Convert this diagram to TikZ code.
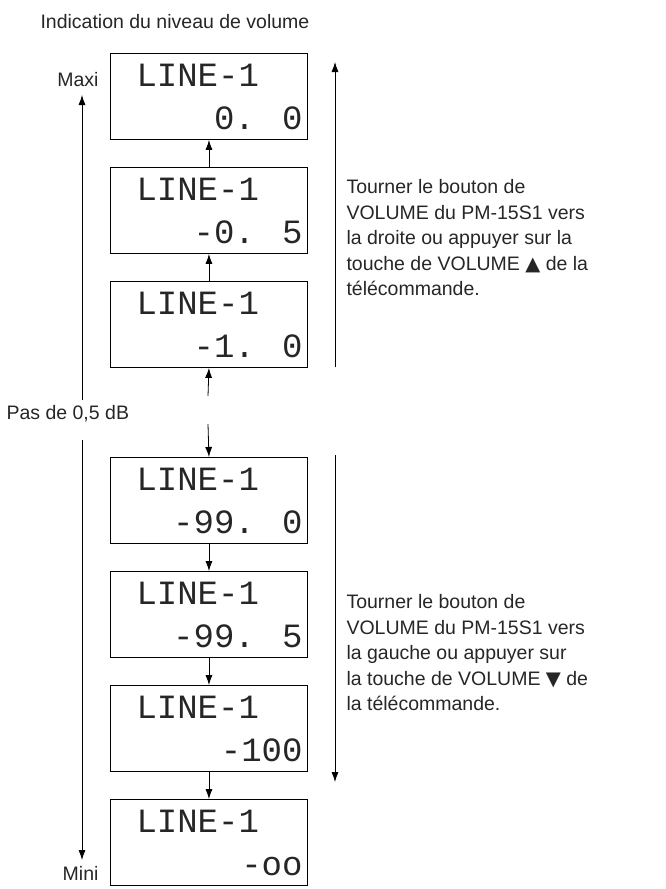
\documentclass[tikz,border=0pt]{standalone}
\usepackage{fontspec}
\usetikzlibrary{arrows.meta}
\setmainfont{Liberation Sans}
\newfontfamily\lcd{Liberation Mono}
\begin{document}
\begin{tikzpicture}[x=1pt,y=-1pt,
  lcdbox/.style={draw,line width=0.9pt,minimum width=197pt,minimum height=86pt,anchor=north west,inner sep=0},
  top/.style={font=\lcd\fontsize{34}{34}\selectfont,anchor=base west,text=black!85},
  bot/.style={font=\lcd\fontsize{34}{34}\selectfont,anchor=base east,text=black!85},
  lbl/.style={font=\fontsize{19.5}{25.5}\selectfont,text=black!85},
  arr/.style={-{Latex[length=10pt,width=7pt]},line width=0.8pt}]
\useasboundingbox (0,0) rectangle (665,889);
\node[lbl,anchor=base west] (title) at (37,28) {Indication du niveau de volume};
\foreach \n/\y/\v in {b1/53/0. 0,b2/167/-0. 5,b3/281/-1. 0,b4/457/-99. 0,b5/571/-99. 5,b6/685/-100,b7/799/-oo}{
  \node[lcdbox] (\n) at (110,\y) {};
  \node[top] at (133,\y+33) {LINE-1};
  \node[bot] at (306,\y+76) {\v};
}
\coordinate (u0) at (208,396);
\coordinate (d0) at (208,424);
\draw[arr] (b2.north) -- (b1.south);
\draw[arr] (b3.north) -- (b2.south);
\draw[arr] (u0) -- (b3.south);
\draw[arr] (d0) -- (b4.north);
\draw[arr] (b4.south) -- (b5.north);
\draw[arr] (b5.south) -- (b6.north);
\draw[arr] (b6.south) -- (b7.north);
\node[lbl,anchor=base east] (maxi) at (102,86) {Maxi};
\node[lbl,anchor=base east] (mini) at (102,880) {Mini};
\node[lbl,anchor=base west] (pas) at (3,419) {Pas de 0,5 dB};
\coordinate (l1) at (82,400);
\coordinate (l2) at (82,95);
\coordinate (l3) at (82,440);
\coordinate (l4) at (82,860);
\draw[arr] (l1) -- (l2);
\draw[arr] (l3) -- (l4);
\coordinate (r1) at (335,367);
\coordinate (r2) at (335,62);
\coordinate (r3) at (335,455);
\coordinate (r4) at (335,782);
\draw[arr] (r1) -- (r2);
\draw[arr] (r3) -- (r4);
\node[lbl,anchor=north west,align=left] (t1) at (343,176) {Tourner le bouton de\\VOLUME du PM-15S1 vers\\la droite ou appuyer sur la\\touche de VOLUME {\fontspec{DejaVu Sans}▲} de la\\télécommande.};
\node[lbl,anchor=north west,align=left] (t2) at (343,591) {Tourner le bouton de\\VOLUME du PM-15S1 vers\\la gauche ou appuyer sur\\la touche de VOLUME {\fontspec{DejaVu Sans}▼} de\\la télécommande.};
\end{tikzpicture}
\end{document}
